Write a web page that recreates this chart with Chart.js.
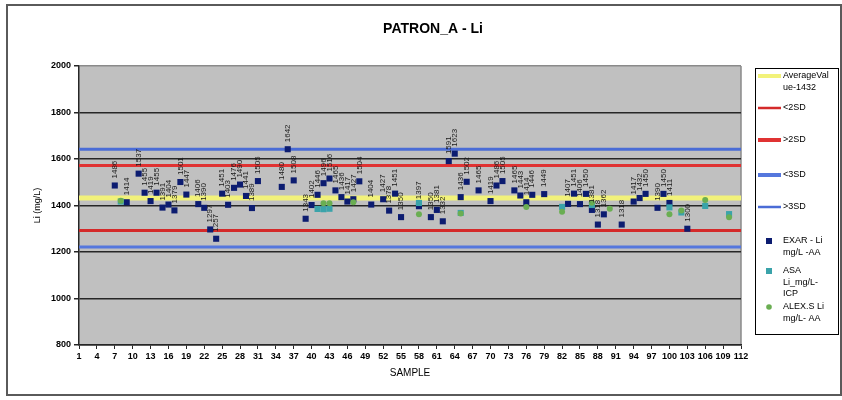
<!DOCTYPE html>
<html>
<head>
<meta charset="utf-8">
<script src="https://cdn.jsdelivr.net/npm/chart.js@4.4.1/dist/chart.umd.min.js"></script>
<style>
  html, body { margin: 0; padding: 0; background: #fff; }
  #wrap { width: 842px; height: 400px; }
</style>
</head>
<body>
<div id="wrap"><canvas id="qc" width="842" height="400"></canvas></div>
<script>
// ── Data ──────────────────────────────────────────────────
const exarSamples = [7, 9, 11, 12, 13, 14, 15, 16, 17, 18, 19, 21, 22, 23, 24, 25, 26, 27, 28, 29, 30, 31,
  35, 36, 37, 39, 40, 41, 42, 43, 44, 45, 46, 47, 48, 50, 52, 53, 54, 55, 58, 60, 61, 62, 63, 64, 65, 66,
  68, 70, 71, 72, 74, 75, 76, 77, 79, 83, 84, 85, 86, 87, 88, 89, 92, 94, 95, 96, 98, 99, 100, 103];
const exarValues = [1486, 1414, 1537, 1455, 1419, 1455, 1391, 1404, 1379, 1501, 1447, 1406, 1390, 1297, 1257, 1451, 1403, 1476, 1490, 1441, 1389, 1505,
  1480, 1642, 1508, 1343, 1402, 1446, 1496, 1516, 1465, 1436, 1417, 1427, 1504, 1404, 1427, 1378, 1451, 1350, 1397, 1350, 1381, 1332, 1591, 1623, 1436, 1502,
  1465, 1419, 1486, 1505, 1465, 1443, 1414, 1446, 1449, 1407, 1451, 1406, 1450, 1381, 1318, 1362, 1318, 1417, 1432, 1450, 1390, 1450, 1411, 1300];

const asaSamples = [8, 41, 42, 43, 58, 65, 82, 87, 100, 102, 106, 110];
const asaValues = [1417, 1385, 1384, 1386, 1411, 1368, 1394, 1402, 1392, 1370, 1398, 1363];

const alexSamples = [8, 42, 43, 47, 58, 65, 76, 82, 87, 90, 100, 102, 106, 110];
const alexValues = [1420, 1410, 1410, 1414, 1362, 1366, 1394, 1373, 1412, 1386, 1362, 1378, 1424, 1350];

const limitNames = ['AverageValue-1432', '<2SD', '>2SD', '<3SD', '>3SD'];
const limitValues = [1432, 1292, 1572, 1222, 1642];
const sampleRange = [1, 112];

const chartTitle = 'PATRON_A - Li';
const seriesNames = ['EXAR - Li mg/L -AA', 'ASA Li_mg/L-ICP', 'ALEX.S Li mg/L- AA'];
// legend text as the spreadsheet wrapped it
const legendRows = [
  ['AverageVal', 'ue-1432'], ['<2SD'], ['>2SD'], ['<3SD'], ['>3SD'],
  ['EXAR - Li', 'mg/L -AA'], ['ASA', 'Li_mg/L-', 'ICP'], ['ALEX.S Li', 'mg/L- AA']
];

// ── Styles ────────────────────────────────────────────────
const C = {
  plot: '#c0c0c0',
  grid: '#262626',
  edge: '#8a8a8a',
  avg: '#f2f27a',
  red: '#e03232',
  red2: '#d42a2a',
  blue: '#5577dd',
  blue2: '#4a6cd6',
  exar: '#0c1c70',
  asa: '#3aa3aa',
  alex: '#6aae52',
  font: '"Liberation Sans", Arial, sans-serif',
};
const limitStyle = [
  { color: C.avg, width: 5, legendWidth: 4 },
  { color: C.red2, width: 3, legendWidth: 2.5 },
  { color: C.red, width: 3, legendWidth: 4 },
  { color: C.blue, width: 3, legendWidth: 4 },
  { color: C.blue2, width: 3, legendWidth: 2.5 },
];

const pts = (xs, ys) => xs.map((x, i) => ({ x, y: ys[i] }));

const limitSets = limitNames.map((name, i) => ({
  label: name,
  data: sampleRange.map(x => ({ x, y: limitValues[i] })),
  borderColor: limitStyle[i].color,
  borderWidth: limitStyle[i].width,
  pointRadius: 0,
  order: 5 + i,
  _legend: { kind: 'line', width: limitStyle[i].legendWidth },
}));

const markerSet = (label, xs, ys, color, style, radius, order) => ({
  label,
  data: pts(xs, ys),
  showLine: false,
  pointStyle: style,
  pointRadius: radius,
  pointBackgroundColor: color,
  pointBorderWidth: 0,
  borderColor: color,
  backgroundColor: color,
  order,
  _legend: { kind: style },
});

const datasets = [
  ...limitSets,
  markerSet(seriesNames[0], exarSamples, exarValues, C.exar, 'rect', 4.3, 2),
  markerSet(seriesNames[1], asaSamples, asaValues, C.asa, 'rect', 4.3, 1),
  markerSet(seriesNames[2], alexSamples, alexValues, C.alex, 'circle', 3, 0),
];

// ── Plugins ───────────────────────────────────────────────
const plotBack = {
  id: 'plotBack',
  beforeDraw(chart) {
    const { ctx, chartArea: a } = chart;
    ctx.save();
    ctx.fillStyle = C.plot;
    ctx.fillRect(a.left, a.top, a.right - a.left, a.bottom - a.top);
    ctx.strokeStyle = C.edge;
    ctx.lineWidth = 1.5;
    ctx.beginPath();
    ctx.moveTo(a.right, a.top);
    ctx.lineTo(a.right, a.bottom);
    ctx.stroke();
    // outer frame of the sheet object
    ctx.strokeStyle = '#5a5a5a';
    ctx.lineWidth = 2;
    ctx.strokeRect(7, 5, 834, 390);
    // title sits centred on the whole object, not on the plot
    ctx.fillStyle = '#000';
    ctx.font = 'bold 14px ' + C.font;
    ctx.textAlign = 'center';
    ctx.textBaseline = 'middle';
    ctx.fillText(chartTitle, 433, 29);
    ctx.restore();
  }
};

const valueLabels = {
  id: 'valueLabels',
  afterDatasetsDraw(chart) {
    const idx = limitNames.length; // EXAR series
    const meta = chart.getDatasetMeta(idx);
    const { ctx } = chart;
    ctx.save();
    ctx.font = '8px ' + C.font;
    ctx.fillStyle = '#1a1a1a';
    ctx.textAlign = 'left';
    ctx.textBaseline = 'middle';
    meta.data.forEach((el, i) => {
      ctx.save();
      ctx.translate(el.x, el.y - 7);
      ctx.rotate(-Math.PI / 2);
      ctx.fillText(String(exarValues[i]), 0, 0);
      ctx.restore();
    });
    ctx.restore();
  }
};

const boxLegend = {
  id: 'boxLegend',
  afterDraw(chart) {
    const { ctx } = chart;
    const rowY = [76, 108, 140, 175, 207, 241, 271, 307];
    const lineH = 11.5;
    ctx.save();
    ctx.strokeStyle = '#000';
    ctx.lineWidth = 1;
    ctx.strokeRect(755.5, 68.5, 83, 266);
    ctx.font = '9px ' + C.font;
    ctx.textAlign = 'left';
    ctx.textBaseline = 'middle';
    chart.data.datasets.forEach((ds, i) => {
      const y = rowY[i];
      const lg = ds._legend;
      if (lg.kind === 'line') {
        ctx.strokeStyle = ds.borderColor;
        ctx.lineWidth = lg.width;
        ctx.beginPath();
        ctx.moveTo(758, y);
        ctx.lineTo(781, y);
        ctx.stroke();
      } else if (lg.kind === 'rect') {
        ctx.fillStyle = ds.pointBackgroundColor;
        ctx.fillRect(766, y - 3, 6, 6);
      } else {
        ctx.fillStyle = ds.pointBackgroundColor;
        ctx.beginPath();
        ctx.arc(769, y, 2.8, 0, Math.PI * 2);
        ctx.fill();
      }
      ctx.fillStyle = '#000';
      legendRows[i].forEach((t, k) => ctx.fillText(t, 783, y + k * lineH));
    });
    ctx.restore();
  }
};

Chart.defaults.font.family = C.font;
Chart.defaults.color = '#000';

new Chart(document.getElementById('qc'), {
  type: 'line',
  data: { datasets },
  options: {
    responsive: false,
    animation: false,
    events: [],
    layout: { padding: { left: 0, right: 101, top: 66, bottom: 0 } },
    plugins: {
      legend: { display: false },
      tooltip: { enabled: false },
      title: { display: false },
    },
    scales: {
      x: {
        type: 'linear',
        min: sampleRange[0],
        max: sampleRange[1],
        afterFit(s) { s.height = 55; },
        ticks: { stepSize: 3, autoSkip: false, maxRotation: 0, padding: 2, font: { size: 9, weight: 'bold' }, color: '#000', callback: v => String(v) },
        grid: { drawOnChartArea: false, drawTicks: true, tickLength: 4, color: C.grid, lineWidth: 1 },
        border: { color: C.grid, width: 1.5 },
        title: { display: true, text: 'SAMPLE', font: { size: 10 }, color: '#000', padding: { top: 0, bottom: 21 } },
      },
      y: {
        min: 800,
        max: 2000,
        afterFit(s) { s.width = 79; },
        ticks: { stepSize: 200, padding: 3, font: { size: 9, weight: 'bold' }, color: '#000', callback: v => String(v) },
        grid: {
          color: c => (c.tick && c.tick.value === 2000 ? C.edge : C.grid),
          lineWidth: 1.5,
          tickLength: 5,
          tickColor: C.grid,
        },
        border: { color: C.grid, width: 1.5 },
        title: { display: true, text: 'Li (mg/L)', font: { size: 9 }, color: '#000', padding: { top: 32.6, bottom: 0 } },
      },
    },
  },
  plugins: [plotBack, valueLabels, boxLegend],
});
</script>
</body>
</html>
